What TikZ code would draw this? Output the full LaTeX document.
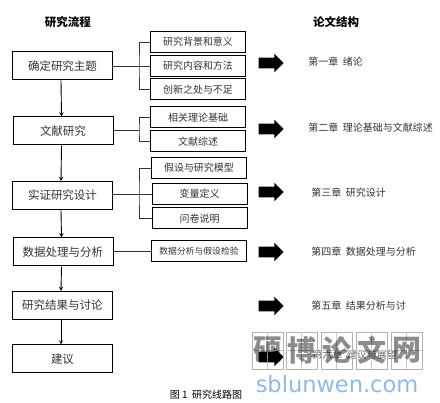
\documentclass[tikz,border=0pt]{standalone}
\usepackage{fontspec}
\setmainfont{Noto Sans CJK SC}
\newfontfamily\urlfont{DejaVu Sans}
\usetikzlibrary{shapes.arrows}
\definecolor{urlblue}{HTML}{8DB9EC}

\begin{document}
\begin{tikzpicture}[x=1pt, y=-1pt, thick,
  stepbox/.style={draw, line width=1pt, minimum width=100pt, minimum height=28pt,
    inner sep=0pt, text=black!80, font=\fontsize{11.5}{12}\selectfont},
  subbox/.style={draw, line width=1pt, minimum width=95pt, minimum height=21pt,
    inner sep=0pt, text=black!80, font=\fontsize{10}{12}\selectfont},
  chapter/.style={anchor=west, inner sep=0pt, text=black!80, font=\fontsize{10}{12}\selectfont},
  heading/.style={inner sep=0pt, font=\fontsize{11.5}{12}\selectfont\bfseries},
  bigarrow/.style={single arrow, fill=black, minimum height=25pt, inner xsep=0pt, inner ysep=5pt,
    single arrow head extend=4pt},
  flow/.style={-stealth, line width=0.9pt},
  branch/.style={line width=0.7pt, black!80},
  wmcell/.style={draw=black!30, line width=0.7pt, minimum width=31pt, minimum height=37pt, inner sep=0pt}]
  \useasboundingbox (0,0) rectangle (440,403);
  \node[heading] (flowhead) at (68, 22) {研究流程};
  \node[heading] (structhead) at (336, 22) {论文结构};
  % 左列：研究流程
  \node[stepbox] (topic) at (62.5, 66) {确定研究主题};
  \node[stepbox] (review) at (63, 131) {文献研究};
  \node[stepbox] (design) at (62.5, 195.5) {实证研究设计};
  \node[stepbox] (data) at (63, 252) {数据处理与分析};
  \node[stepbox] (result) at (62.5, 305.5) {研究结果与讨论};
  \node[stepbox] (advice) at (62.5, 359) {建议};
  \draw[flow] ([xshift=-1.5pt]topic.south) -- ([xshift=-1.5pt]review.north);
  \draw[flow] ([xshift=-1.5pt]review.south) -- ([xshift=-1.5pt]design.north);
  \draw[flow] ([xshift=-1.5pt]design.south) -- ([xshift=-1.5pt]data.north);
  \draw[flow] ([xshift=-1.5pt]data.south) -- ([xshift=-1.5pt]result.north);
  \draw[flow] ([xshift=-1.5pt]result.south) -- ([xshift=-1.5pt]advice.north);
  % 中列：各步骤的内容
  \node[subbox] (bg) at (198, 42) {研究背景和意义};
  \node[subbox] (content) at (198, 66) {研究内容和方法};
  \node[subbox] (novel) at (198, 89.5) {创新之处与不足};
  \node[subbox] (theory) at (198, 117.5) {相关理论基础};
  \node[subbox] (survey) at (198, 141.5) {文献综述};
  \node[subbox] (model) at (199, 168) {假设与研究模型};
  \node[subbox] (vars) at (199.5, 194) {变量定义};
  \node[subbox] (quest) at (199.5, 218.5) {问卷说明};
  \node[subbox, font=\fontsize{8.8}{10}\selectfont] (test) at (199, 251.5) {数据分析与假设检验};
  \coordinate (topicbar) at (139, 66);
  \coordinate (reviewbar) at (139, 130);
  \coordinate (designbar) at (139, 194);
  \draw[branch] (topic) -- (content);
  \draw[branch] (bg.west) -| (topicbar) |- (novel.west);
  \draw[branch] (review.east |- reviewbar) -- (reviewbar);
  \draw[branch] (theory.west) -| (reviewbar) |- (survey.west);
  \draw[branch] (design.east |- vars.west) -- (vars.west);
  \draw[branch] (model.west) -| (designbar) |- (quest.west);
  \draw[branch] (data.east |- test.west) -- (test.west);
  % 右列：论文结构
  \node[bigarrow] (arrowa) at (268.5, 63) {};
  \node[bigarrow] (arrowb) at (268.5, 129) {};
  \node[bigarrow] (arrowc) at (268.5, 192) {};
  \node[bigarrow] (arrowd) at (268.5, 252) {};
  \node[bigarrow] (arrowe) at (268.5, 306) {};
  \node[bigarrow] (arrowf) at (268.5, 357) {};
  \node[chapter] (chapa) at (308, 62) {第一章\ \ 绪论};
  \node[chapter] (chapb) at (308, 128) {第二章\ \ 理论基础与文献综述};
  \node[chapter] (chapc) at (311, 193) {第三章\ \ 研究设计};
  \node[chapter] (chapd) at (311, 252) {第四章\ \ 数据处理与分析};
  \node[chapter] (chape) at (311, 306) {第五章\ \ 结果分析与讨};
  \node[chapter, text=black!60] (chapf) at (312, 355) {第六章\ \ 建议与展望};
  \node[inner sep=0pt, font=\fontsize{10}{12}\selectfont] (caption) at (206, 395) {图 1\ \ 研究线路图};
  % 水印
  \foreach \cx/\ch/\nm in {267.5/硕/wma, 301.5/博/wmb, 336.5/论/wmc, 371.5/文/wmd, 406.5/网/wme} {
    \node[wmcell] (\nm) at (\cx, 350.5) {};
    \draw[black!22, line width=0.5pt] (\nm.north) -- (\nm.south) (\nm.west) -- (\nm.east);
    \node[inner sep=0pt, text=black, opacity=0.45, font=\fontsize{29}{30}\selectfont\bfseries] at (\nm) {\ch};
  }
  \node[inner sep=0pt, text=urlblue, font=\urlfont\fontsize{22.5}{24}\selectfont] (wmurl) at (337, 384) {sblunwen.com};
\end{tikzpicture}
\end{document}
